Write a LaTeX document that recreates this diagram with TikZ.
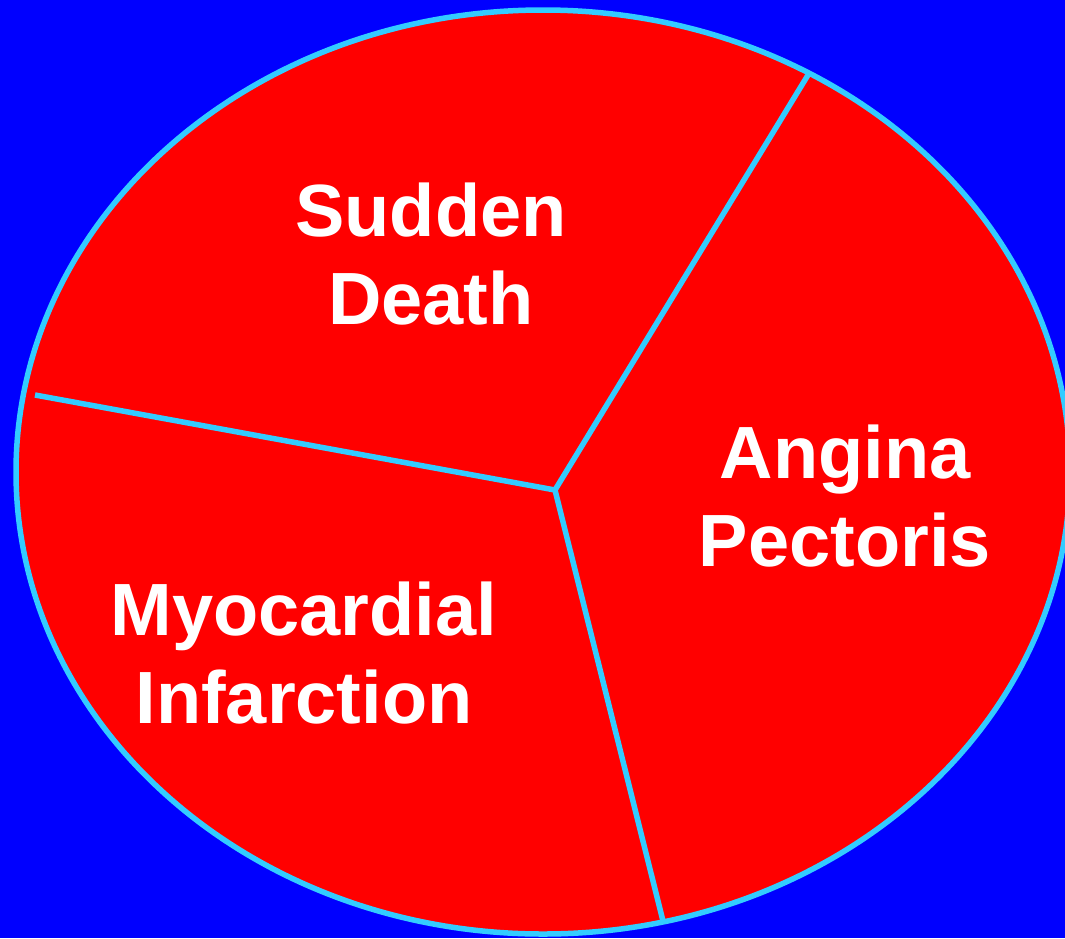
\documentclass[tikz,border=0pt]{standalone}
\usepackage{fontspec}
\setmainfont{Liberation Sans}
\usepackage{tikz}
\usetikzlibrary{positioning}

\definecolor{bgblue}{HTML}{0000FF}
\definecolor{pied}{HTML}{FF0000}
\definecolor{rimblue}{HTML}{33CCFF}

\begin{document}
\begin{tikzpicture}[
    x=1pt, y=-1pt,
    disc/.style={fill=pied, draw=rimblue, line width=5.5pt},
    spoke/.style={draw=rimblue, line width=5.5pt},
    lbl/.style={text=white, font=\fontsize{74}{88}\selectfont\bfseries, align=center, inner sep=0pt},
]

\fill[bgblue] (0,0) rectangle (1065,938);
\useasboundingbox (0,0) rectangle (1065,938);

\draw[disc] (543,472) ellipse [x radius=527, y radius=462];

\coordinate (hub) at (555,490);
\coordinate (rimTop) at (808,75);
\coordinate (rimLeft) at (35,395);
\coordinate (rimBot) at (663,921);

\draw[spoke] (hub) -- (rimTop);
\draw[spoke] (hub) -- (rimLeft);
\draw[spoke] (hub) -- (rimBot);

\node[lbl] (sudden) at (431,254) {Sudden\\Death};
\node[lbl] (angina) at (845,496) {Angina\\Pectoris};
\node[lbl] (myo) at (304,653) {Myocardial\\Infarction};

\end{tikzpicture}
\end{document}
